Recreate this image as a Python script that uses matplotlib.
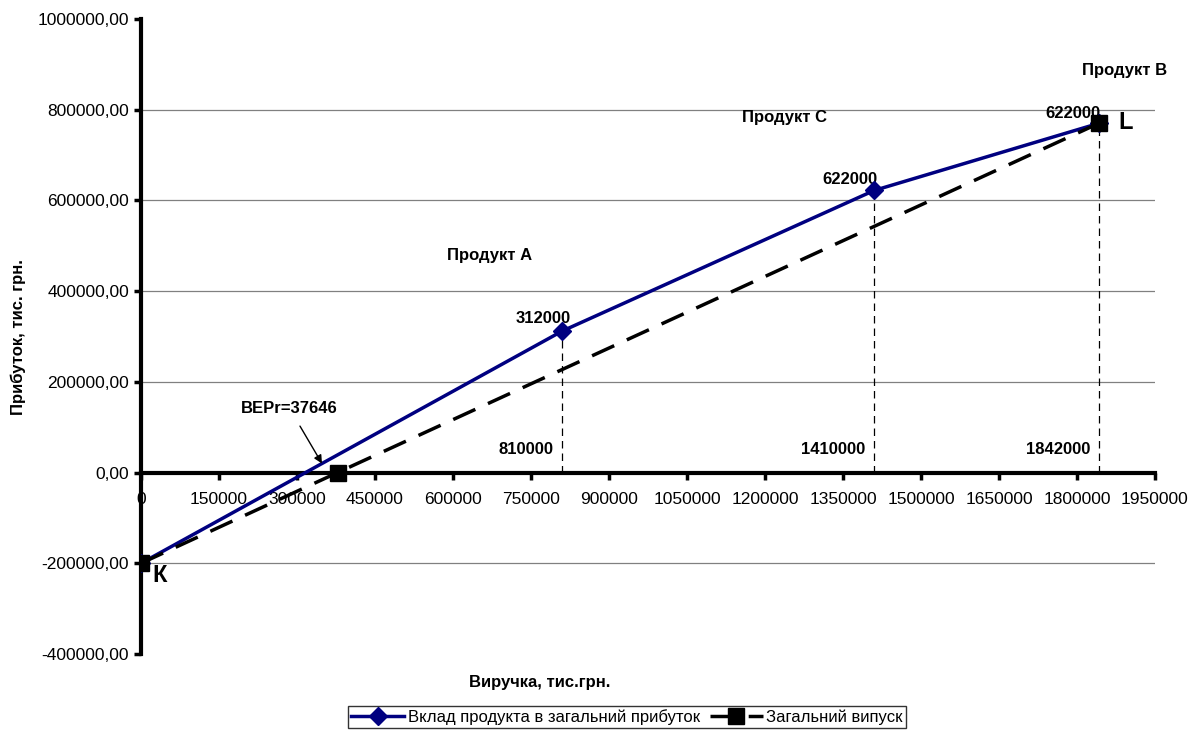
import numpy as np
import matplotlib.pyplot as plt
from matplotlib.ticker import FuncFormatter

plt.rcParams['font.family'] = ['Liberation Sans', 'DejaVu Sans']

# Дані
revenue = [0, 810000, 1410000, 1842000]
profit = [-200000, 312000, 622000, 770000]
total_x = [0, 378000, 1842000]
total_y = [-200000, 0, 770000]
x_ticks = np.arange(0, 1950001, 150000)
y_ticks = np.arange(-400000, 1000001, 200000)
grid_levels = [-200000, 200000, 400000, 600000, 800000]

point_labels = ["312000", "622000", "622000"]
point_label_pos = [(773000, 340000), (1364000, 647000), (1792000, 791000)]
product_names = ["Продукт А", "Продукт С", "Продукт В"]
product_pos = [(671000, 478000), (1238000, 782000), (1892000, 886000)]

fig = plt.figure(figsize=(11.96, 7.36), dpi=100)
ax = fig.add_axes([141 / 1196, 1 - 654 / 736, (1155 - 141) / 1196, (654 - 19) / 736])

for g in grid_levels:
    ax.axhline(g, color='#808080', lw=0.9, zorder=0)

# вертикальні пунктирні лінії
for x, y in zip(revenue[1:], profit[1:]):
    ax.plot([x, x], [0, y], color='black', lw=0.9, ls=(0, (6, 4)), zorder=1)

ax.plot(revenue, profit, color='#000080', lw=2.5, marker='D', markersize=9,
        label='Вклад продукта в загальний прибуток', zorder=3)
ax.plot(total_x, total_y, color='black', lw=2.5, ls=(0, (7, 4)), marker='s',
        markersize=11, label='Загальний випуск', zorder=4)

ax.set_xlim(0, 1950000)
ax.set_ylim(-400000, 1000000)
ax.set_xticks(x_ticks)
ax.set_yticks(y_ticks)
ax.xaxis.set_major_formatter(FuncFormatter(lambda v, p: f"{v:.0f}"))
ax.yaxis.set_major_formatter(FuncFormatter(lambda v, p: f"{v:.2f}".replace('.', ',')))
ax.tick_params(axis='both', labelsize=12.5, width=2.5, length=5, direction='out')
ax.tick_params(axis='x', pad=9)

ax.spines['top'].set_visible(False)
ax.spines['right'].set_visible(False)
ax.spines['bottom'].set_position(('data', 0))
ax.spines['left'].set_linewidth(3)
ax.spines['bottom'].set_linewidth(3)

for txt, (x, y) in zip(point_labels, point_label_pos):
    ax.text(x, y, txt, fontsize=12, fontweight='bold', ha='center', va='center', zorder=2)
for txt, (x, y) in zip(product_names, product_pos):
    ax.text(x, y, txt, fontsize=12, fontweight='bold', ha='center', va='center')

for x in revenue[1:]:
    ax.text(x - 17000, 50000, str(x), fontsize=12, fontweight='bold', ha='right', va='center')

ax.text(36000, -228000, "К", fontsize=17, fontweight='bold', ha='center', va='center')
ax.text(1893000, 771000, "L", fontsize=17, fontweight='bold', ha='center', va='center')

ax.annotate("BEPr=37646", xy=(348000, 20000), xytext=(286000, 141000),
            fontsize=12, fontweight='bold', ha='center', va='center',
            arrowprops=dict(arrowstyle='-|>', color='black', lw=1, shrinkA=6, shrinkB=0))

fig.text(18 / 1196, 1 - 337 / 736, "Прибуток, тис. грн.", rotation=90, fontsize=12,
         fontweight='bold', ha='center', va='center')
fig.text(540 / 1196, 1 - 683 / 736, "Виручка, тис.грн.", fontsize=12,
         fontweight='bold', ha='center', va='center')

leg = fig.legend(loc='center', bbox_to_anchor=(627 / 1196, 1 - 717 / 736), ncol=2,
                 fontsize=12, frameon=True, fancybox=False, edgecolor='black',
                 handlelength=3.2, columnspacing=0.6, handletextpad=0.2,
                 borderpad=0.2, borderaxespad=0)
leg.get_frame().set_linewidth(1)

fig.savefig('out.png', dpi=100)
